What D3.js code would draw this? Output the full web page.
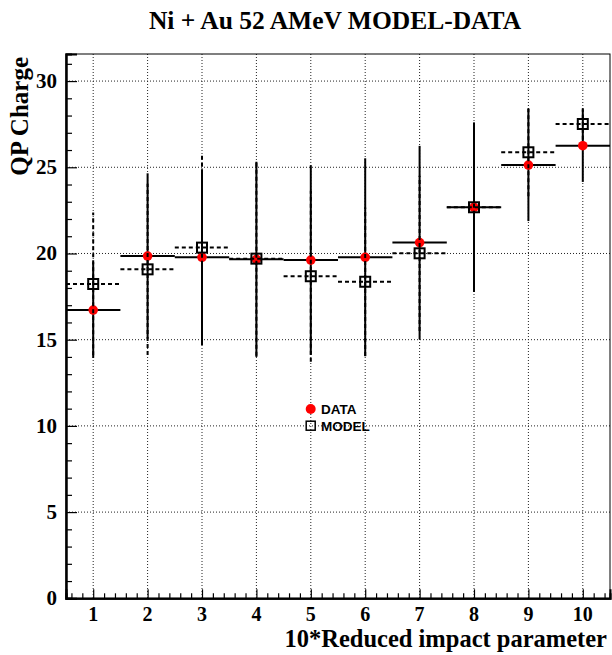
<!DOCTYPE html>
<html>
<head>
<meta charset="utf-8">
<script src="https://cdn.jsdelivr.net/npm/d3@7"></script>
<style>
  body { margin: 0; background: #fff; }
  svg { display: block; }
</style>
</head>
<body>
<svg id="chart" width="612" height="655"></svg>
<script>
// ---- data ----
const bins = [1, 2, 3, 4, 5, 6, 7, 8, 9, 10];
const dataValues = [16.72, 19.85, 19.78, 19.66, 19.62, 19.78, 20.63, 22.68, 25.13, 26.25];
const dataErrors = [2.78, 4.80, 5.10, 5.66, 5.50, 5.74, 5.61, 4.92, 3.25, 2.10];
const modelValues = [18.23, 19.08, 20.34, 19.70, 18.68, 18.36, 20.01, 22.68, 25.87, 27.51];
const modelErrors = [4.14, 4.97, 5.46, 5.63, 4.96, 4.30, 4.50, 4.90, 2.55, 0.91];
const xTickLabels = ["1", "2", "3", "4", "5", "6", "7", "8", "9", "10"];
const yTickValues = [0, 5, 10, 15, 20, 25, 30];
const titleText = "Ni + Au 52 AMeV MODEL-DATA";
const xTitle = "10*Reduced impact parameter";
const yTitle = "QP Charge";
const legendLabels = ["DATA", "MODEL"];

// ---- layout ----
const svg = d3.select("#chart");
const L = 66, R = 610, T = 54, B = 598.3;
const x = d3.scaleLinear().domain([0.5, 10.5]).range([L, R]);
const y = d3.scaleLinear().domain([0, 31.57]).range([B, T]);
const serif = "'Liberation Serif', 'Times New Roman', serif";
const sans = "'Liberation Sans', Arial, sans-serif";

// grid
const grid = svg.append("g").attr("stroke", "#222").attr("stroke-width", 1)
  .attr("stroke-dasharray", "1,2");
grid.selectAll("line.gx").data(bins).join("line")
  .attr("x1", d => x(d)).attr("x2", d => x(d)).attr("y1", T).attr("y2", B);
grid.selectAll("line.gy").data(yTickValues.filter(v => v > 0)).join("line")
  .attr("x1", L).attr("x2", R).attr("y1", d => y(d)).attr("y2", d => y(d));

// frame
svg.append("rect").attr("x", L).attr("y", T).attr("width", R - L).attr("height", B - T)
  .attr("fill", "none").attr("stroke", "#000").attr("stroke-width", 1);

// axes (ticks pointing inward)
const xMinor = d3.range(0.6, 10.5, 0.2).filter(v => Math.abs(v - Math.round(v)) > 0.01);
const xAxisMinor = d3.axisBottom(x).tickValues(xMinor).tickSize(-5).tickFormat("");
const xAxisMajor = d3.axisBottom(x).tickValues(bins).tickSize(-9).tickFormat("");
const gxMin = svg.append("g").attr("transform", `translate(0,${B})`).call(xAxisMinor);
const gxMaj = svg.append("g").attr("transform", `translate(0,${B})`).call(xAxisMajor);
const yMinor = d3.range(0, 32, 1).filter(v => v % 5 !== 0 && v <= 31.5);
const yAxisMinor = d3.axisLeft(y).tickValues(yMinor).tickSize(-6).tickFormat("");
const yAxisMajor = d3.axisLeft(y).tickValues(yTickValues).tickSize(-11).tickFormat("");
const gyMin = svg.append("g").attr("transform", `translate(${L},0)`).call(yAxisMinor);
const gyMaj = svg.append("g").attr("transform", `translate(${L},0)`).call(yAxisMajor);
[gxMin, gxMaj, gyMin, gyMaj].forEach(g => {
  g.select(".domain").attr("stroke-width", 2);
  g.selectAll(".tick line").attr("stroke-width", 1.2);
});

// tick labels
svg.append("g").selectAll("text").data(bins).join("text")
  .attr("x", d => x(d)).attr("y", 621).attr("text-anchor", "middle")
  .attr("font-family", serif).attr("font-weight", "bold").attr("font-size", 20)
  .text((d, i) => xTickLabels[i]);
svg.append("g").selectAll("text").data(yTickValues).join("text")
  .attr("x", 57).attr("y", d => y(d) + 7).attr("text-anchor", "end")
  .attr("font-family", serif).attr("font-weight", "bold").attr("font-size", 21)
  .text(d => d);

// titles
svg.append("text").attr("x", 335).attr("y", 29).attr("text-anchor", "middle")
  .attr("font-family", serif).attr("font-weight", "bold").attr("font-size", 25.5)
  .text(titleText);
svg.append("text").attr("x", 607).attr("y", 647).attr("text-anchor", "end")
  .attr("font-family", serif).attr("font-weight", "bold").attr("font-size", 24.5)
  .text(xTitle);
svg.append("text").attr("transform", "translate(28,57) rotate(-90)").attr("text-anchor", "end")
  .attr("font-family", serif).attr("font-weight", "bold").attr("font-size", 25)
  .text(yTitle);

// DATA series
const gData = svg.append("g");
gData.selectAll("line.h").data(bins).join("line")
  .attr("x1", d => x(d - 0.5)).attr("x2", d => x(d + 0.5))
  .attr("y1", (d, i) => y(dataValues[i])).attr("y2", (d, i) => y(dataValues[i]))
  .attr("stroke", "#000").attr("stroke-width", 2);
gData.selectAll("line.v").data(bins).join("line")
  .attr("x1", d => x(d)).attr("x2", d => x(d))
  .attr("y1", (d, i) => y(dataValues[i] - dataErrors[i]))
  .attr("y2", (d, i) => y(dataValues[i] + dataErrors[i]))
  .attr("stroke", "#000").attr("stroke-width", 2);
gData.selectAll("circle").data(bins).join("circle")
  .attr("cx", d => x(d)).attr("cy", (d, i) => y(dataValues[i])).attr("r", 4.8)
  .attr("fill", "#ff0000");

// MODEL series
const gModel = svg.append("g");
gModel.selectAll("line.h").data(bins).join("line")
  .attr("x1", d => x(d - 0.5)).attr("x2", d => x(d + 0.5))
  .attr("y1", (d, i) => y(modelValues[i])).attr("y2", (d, i) => y(modelValues[i]))
  .attr("stroke", "#000").attr("stroke-width", 2).attr("stroke-dasharray", "4,3");
gModel.selectAll("line.v").data(bins).join("line")
  .attr("x1", d => x(d)).attr("x2", d => x(d))
  .attr("y1", (d, i) => y(modelValues[i] - modelErrors[i]))
  .attr("y2", (d, i) => y(modelValues[i] + modelErrors[i]))
  .attr("stroke", "#000").attr("stroke-width", 2).attr("stroke-dasharray", "4,3");
gModel.selectAll("rect").data(bins).join("rect")
  .attr("x", d => x(d) - 5).attr("y", (d, i) => y(modelValues[i]) - 5)
  .attr("width", 10).attr("height", 10)
  .attr("fill", "none").attr("stroke", "#000").attr("stroke-width", 2);

// legend
const lg = svg.append("g");
lg.append("circle").attr("cx", 310.7).attr("cy", 409).attr("r", 5).attr("fill", "#ff0000");
lg.append("rect").attr("x", 306.2).attr("y", 421.2).attr("width", 9).attr("height", 9)
  .attr("fill", "none").attr("stroke", "#000").attr("stroke-width", 1.5);
lg.selectAll("text").data(legendLabels).join("text")
  .attr("x", 321).attr("y", (d, i) => 414 + i * 17)
  .attr("font-family", sans).attr("font-weight", "bold").attr("font-size", 13.5)
  .text(d => d);
</script>
</body>
</html>
